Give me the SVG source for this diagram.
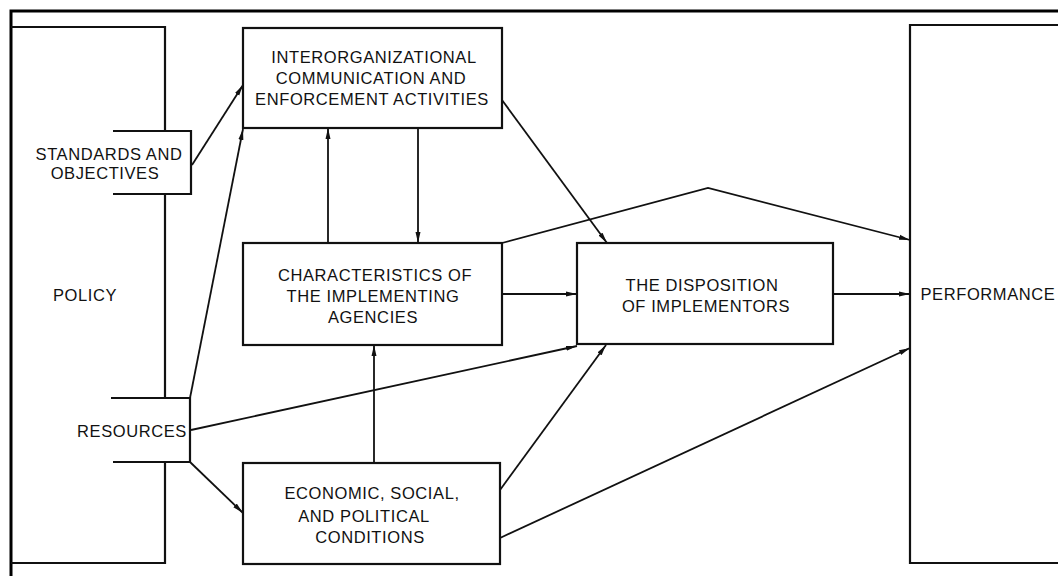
<svg xmlns="http://www.w3.org/2000/svg" width="1058" height="576" viewBox="0 0 1058 576">
  <style>
    .box { fill: #fff; stroke: #111; stroke-width: 2.2; }
    .edge { fill: none; stroke: #111; stroke-width: 2.2; }
    .frame { fill: none; stroke: #000; stroke-width: 3; }
    .conn { fill: none; stroke: #111; stroke-width: 1.8; }
    text { font-family: "Liberation Sans", Arial, sans-serif; font-size: 16.5px; letter-spacing: 0.6px; fill: #111; text-anchor: middle; }
  </style>
  <defs>
    <marker id="arr" viewBox="0 0 11 6" refX="11" refY="3" markerWidth="11" markerHeight="6" markerUnits="userSpaceOnUse" orient="auto">
      <path d="M0,0.5 L11,3 L0,5.5 z" fill="#111"/>
    </marker>
  </defs>
  <rect width="1058" height="576" fill="#fff"/>
  <path class="frame" d="M11,590 L11,11 L1070,11"/>

  <g id="policy">
    <path class="edge" d="M11,27 L165,27 L165,131 M113,131 L191,131 L191,194 L113,194 M165,194 L165,398 M111,398 L190,398 L190,462 L113,462 M165,462 L165,563 L11,563"/>
    <text x="85" y="301">POLICY</text>
  </g>
  <g id="standards">
    <text x="109" y="160">STANDARDS AND</text>
    <text x="105" y="179">OBJECTIVES</text>
  </g>
  <g id="resources">
    <text x="132" y="437">RESOURCES</text>
  </g>

  <g id="interorg">
    <rect class="box" x="243" y="28" width="259" height="100"/>
    <text x="374" y="63">INTERORGANIZATIONAL</text>
    <text x="371" y="84">COMMUNICATION AND</text>
    <text x="372" y="105">ENFORCEMENT ACTIVITIES</text>
  </g>

  <g id="characteristics">
    <rect class="box" x="243" y="243" width="259" height="102"/>
    <text x="375" y="281">CHARACTERISTICS OF</text>
    <text x="373" y="302">THE IMPLEMENTING</text>
    <text x="373" y="323">AGENCIES</text>
  </g>

  <g id="economic">
    <rect class="box" x="243" y="463" width="257" height="101"/>
    <text x="372" y="499">ECONOMIC, SOCIAL,</text>
    <text x="364" y="522">AND POLITICAL</text>
    <text x="370" y="543">CONDITIONS</text>
  </g>

  <g id="disposition">
    <rect class="box" x="577" y="243" width="256" height="101"/>
    <text x="702" y="291">THE DISPOSITION</text>
    <text x="706" y="312">OF IMPLEMENTORS</text>
  </g>

  <g id="performance">
    <path class="edge" d="M1070,25 L910,25 L910,563 L1070,563"/>
    <text x="988" y="300">PERFORMANCE</text>
  </g>

  <g id="connectors">
    <line class="conn" x1="192" y1="165" x2="243" y2="85" marker-end="url(#arr)"/>
    <line class="conn" x1="190" y1="398" x2="243" y2="129" marker-end="url(#arr)"/>
    <line class="conn" x1="191" y1="430" x2="577" y2="346" marker-end="url(#arr)"/>
    <line class="conn" x1="190" y1="462" x2="243" y2="513" marker-end="url(#arr)"/>
    <line class="conn" x1="418" y1="128" x2="418" y2="243" marker-end="url(#arr)"/>
    <line class="conn" x1="328" y1="243" x2="328" y2="128" marker-end="url(#arr)"/>
    <line class="conn" x1="374" y1="463" x2="374" y2="345" marker-end="url(#arr)"/>
    <line class="conn" x1="502" y1="100" x2="607" y2="243" marker-end="url(#arr)"/>
    <polyline class="conn" points="502,243 708,188 910,240" marker-end="url(#arr)"/>
    <line class="conn" x1="502" y1="294" x2="577" y2="294" marker-end="url(#arr)"/>
    <line class="conn" x1="833" y1="294" x2="910" y2="294" marker-end="url(#arr)"/>
    <line class="conn" x1="500" y1="490" x2="606" y2="345" marker-end="url(#arr)"/>
    <line class="conn" x1="500" y1="538" x2="910" y2="348" marker-end="url(#arr)"/>
  </g>
</svg>
